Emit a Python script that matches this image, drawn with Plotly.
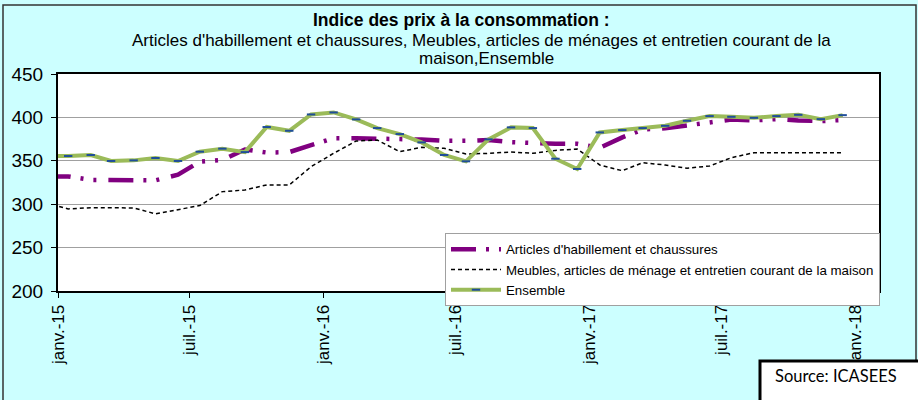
import pandas as pd
import plotly.graph_objects as go

# Monthly data (mid-month), Dec 2014 .. Dec 2017
months = pd.date_range("2014-12-01", "2017-12-01", freq="MS") + pd.Timedelta(days=14)

habillement = [331.5, 332, 328, 327.5, 327.5, 327.5, 334, 349, 351, 363, 359.5, 360,
               368, 376, 376, 376, 375, 374.5, 373, 373, 374, 371.5, 370, 369.5,
               369.5, 365, 377, 386, 387.5, 391, 393.5, 397.5, 396.5, 398, 396.5, 395.7, 397]
meubles = [301.7, 294.6, 296, 295.7, 295.7, 288.9, 293.4, 298.4, 314.5, 316.4, 322.2, 322.2,
           343.2, 358.6, 372.8, 373.9, 360.5, 365.5, 364.4, 357.8, 358.6, 360.1, 358.6, 362,
           363.6, 345.2, 338.6, 347.8, 345.2, 341.4, 344, 353.6, 359.3, 359.3, 359.3, 359.3, 359.3]
ensemble = [355.5, 355.5, 356.7, 349.8, 350.5, 353.2, 349.8, 360.5, 364, 360, 388.9, 384.6,
            403.4, 405.7, 397.7, 387.7, 380.8, 371.2, 356.7, 349.4, 374.7, 388.5, 387.7, 352.4,
            340.6, 382.7, 385.4, 387.7, 390.3, 396.1, 401.5, 400.7, 399.5, 401.5, 403, 398, 402.6]

tick_dates = ["2015-01-01", "2015-07-01", "2016-01-01", "2016-07-01",
              "2017-01-01", "2017-07-01", "2018-01-01"]
tick_labels = ["janv.-15", "juil.-15", "janv.-16", "juil.-16", "janv.-17", "juil.-17", "janv.-18"]

names = ["Articles d'habillement et chaussures",
         "Meubles, articles de ménage et entretien courant de la maison",
         "Ensemble"]

FONT = "Liberation Sans, Arial, sans-serif"

fig = go.Figure()
fig.add_trace(go.Scatter(
    x=months, y=habillement, mode="lines", name=names[0],
    line=dict(color="#800080", width=4.5, dash="25px,10px,3px,10px,3px,12px"),
))
fig.add_trace(go.Scatter(
    x=months, y=meubles, mode="lines", name=names[1],
    line=dict(color="black", width=1.5, dash="4px,3px"),
))
fig.add_trace(go.Scatter(
    x=months, y=ensemble, mode="lines+markers", name=names[2],
    line=dict(color="#9BBB59", width=4),
    marker=dict(symbol="line-ew", size=6, color="#1F4E9A",
                line=dict(color="#1F4E9A", width=2)),
))

W, H = 918, 400
L, R, T, B = 58, 39, 74, 109
pw, ph = W - L - R, H - T - B


def px(xp):
    return (xp - L) / pw


def py(yp):
    return (H - B - yp) / ph


fig.update_layout(
    width=W, height=H,
    margin=dict(l=L, r=R, t=T, b=B),
    paper_bgcolor="#CCFFFF",
    plot_bgcolor="white",
    font=dict(family=FONT, color="black"),
    showlegend=True,
    legend=dict(
        x=px(445), y=py(233), xanchor="left", yanchor="top",
        bgcolor="white", bordercolor="#A0A0A0", borderwidth=1,
        font=dict(size=13.3, family=FONT), tracegroupgap=0, itemwidth=50,
    ),
    xaxis=dict(
        type="date", range=["2015-01-01", "2018-02-03"],
        tickvals=tick_dates, ticktext=tick_labels, tickangle=-90,
        tickfont=dict(size=17, family=FONT),
        ticks="outside", ticklen=5, tickcolor="black",
        showgrid=False, showline=True, linecolor="black", linewidth=2,
        mirror=True, zeroline=False,
    ),
    yaxis=dict(
        range=[200, 450], dtick=50, tick0=200,
        tickfont=dict(size=19, family=FONT),
        ticks="outside", ticklen=5, tickcolor="black", ticklabelstandoff=4,
        showgrid=True, gridcolor="#A0A0A0", gridwidth=1,
        showline=True, linecolor="black", linewidth=2, mirror=True, zeroline=False,
    ),
    shapes=[
        dict(type="rect", xref="paper", yref="paper",
             x0=px(3), x1=px(916), y0=py(5), y1=py(405),
             line=dict(color="#333333", width=1.5), fillcolor="rgba(0,0,0,0)"),
        dict(type="rect", xref="paper", yref="paper",
             x0=px(760), x1=px(930), y0=py(361), y1=py(415),
             line=dict(color="black", width=3), fillcolor="white"),
    ],
    annotations=[
        dict(text="<b>Indice des prix à la consommation :</b>", xref="paper", yref="paper",
             x=px(461), y=py(20), xanchor="center", yanchor="middle", showarrow=False,
             font=dict(size=17.5, family=FONT)),
        dict(text="Articles d'habillement et chaussures, Meubles, articles de ménages et entretien courant de la",
             xref="paper", yref="paper", x=px(481), y=py(40), xanchor="center", yanchor="middle",
             showarrow=False, font=dict(size=17, family=FONT)),
        dict(text="maison,Ensemble", xref="paper", yref="paper", x=px(486), y=py(58),
             xanchor="center", yanchor="middle", showarrow=False, font=dict(size=17, family=FONT)),
        dict(text="Source: ICASEES", xref="paper", yref="paper", x=px(773), y=py(376),
             xanchor="left", yanchor="middle", showarrow=False,
             font=dict(size=16.5, family="Lato, Carlito, sans-serif")),
    ],
)

fig.write_html(
    "out.html",
    config={"displayModeBar": False},
    post_script="document.body.style.margin='0';document.body.style.overflow='hidden';",
)
